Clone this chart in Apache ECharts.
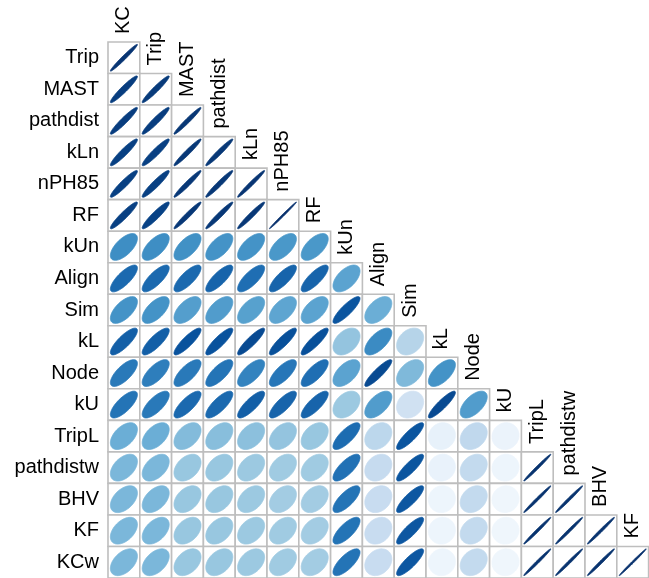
<!DOCTYPE html>
<html>
<head>
<meta charset="utf-8">
<script src="https://cdn.jsdelivr.net/npm/echarts@6/dist/echarts.min.js"></script>
<style>
  html, body { margin: 0; padding: 0; background: #fff; }
  #chart { width: 649px; height: 578px; }
</style>
</head>
<body>
<div id="chart"></div>
<script>
// Column variables (lower triangle, diagonal omitted)
const columns = ['KC', 'Trip', 'MAST', 'pathdist', 'kLn', 'nPH85', 'RF', 'kUn', 'Align',
  'Sim', 'kL', 'Node', 'kU', 'TripL', 'pathdistw', 'BHV', 'KF'];
// Row variables, top to bottom
const rows = ['Trip', 'MAST', 'pathdist', 'kLn', 'nPH85', 'RF', 'kUn', 'Align', 'Sim',
  'kL', 'Node', 'kU', 'TripL', 'pathdistw', 'BHV', 'KF', 'KCw'];

// Correlations of each row variable with the columns to its left
const corTrip = [0.98];
const corMAST = [0.95, 0.96];
const corPathdist = [0.95, 0.95, 0.975];
const corKLn = [0.94, 0.94, 0.97, 0.97];
const corNPH85 = [0.94, 0.94, 0.97, 0.97, 0.98];
const corRF = [0.94, 0.93, 0.97, 0.97, 0.97, 0.995];
const corKUn = [0.64, 0.64, 0.63, 0.62, 0.62, 0.60, 0.60];
const corAlign = [0.78, 0.78, 0.78, 0.80, 0.76, 0.80, 0.80, 0.55];
const corSim = [0.62, 0.62, 0.57, 0.58, 0.56, 0.54, 0.55, 0.86, 0.50];
const corKL = [0.82, 0.82, 0.87, 0.87, 0.90, 0.88, 0.88, 0.40, 0.65, 0.30];
const corNode = [0.72, 0.70, 0.72, 0.74, 0.68, 0.73, 0.76, 0.55, 0.90, 0.45, 0.62];
const corKU = [0.74, 0.72, 0.78, 0.78, 0.82, 0.80, 0.80, 0.38, 0.58, 0.20, 0.90, 0.58];
const corTripL = [0.50, 0.50, 0.44, 0.43, 0.42, 0.40, 0.39, 0.77, 0.28, 0.86, 0.08, 0.27, 0.06];
const corPathdistw = [0.46, 0.46, 0.39, 0.39, 0.38, 0.37, 0.37, 0.75, 0.25, 0.86, 0.07, 0.26, 0.05, 0.99];
const corBHV = [0.46, 0.46, 0.39, 0.39, 0.38, 0.36, 0.36, 0.74, 0.24, 0.85, 0.05, 0.26, 0.04, 0.99, 0.99];
const corKF = [0.46, 0.46, 0.39, 0.39, 0.38, 0.37, 0.36, 0.74, 0.24, 0.85, 0.05, 0.26, 0.04, 0.99, 0.99, 0.99];
const corKCw = [0.46, 0.46, 0.39, 0.39, 0.38, 0.37, 0.36, 0.74, 0.24, 0.85, 0.05, 0.26, 0.04, 0.99, 0.99, 0.99, 0.995];

const corRows = [corTrip, corMAST, corPathdist, corKLn, corNPH85, corRF, corKUn, corAlign,
  corSim, corKL, corNode, corKU, corTripL, corPathdistw, corBHV, corKF, corKCw];

// Sequential blue palette, light (r = 0) to dark (r = 1)
const blues = ['#F7FBFF', '#DEEBF7', '#C6DBEF', '#9ECAE1', '#6BAED6', '#4292C6', '#2171B5', '#08519C', '#08306B'];

const cells = [];
corRows.forEach((vals, ri) => {
  vals.forEach((v, ci) => cells.push([ci, ri, v]));
});
const topLabels = columns.map((name, ci) => [ci, ci]);

const FONT = '"Liberation Sans", Arial, sans-serif';

// One cell: grey frame plus an ellipse whose width shows the correlation
function renderCell(params, api) {
  const center = api.coord([api.value(0), api.value(1)]);
  const size = api.size([1, 1]);
  const w = size[0], h = size[1];
  const rho = api.value(2);
  const color = api.visual('color');
  const d = Math.acos(rho);
  const n = 98;
  const pts = [];
  for (let k = 0; k <= n; k++) {
    const t = 2 * Math.PI * k / n;
    const ex = Math.cos(t + d / 2) * 0.425 * w;
    const ey = Math.cos(t - d / 2) * 0.425 * h;
    pts.push([center[0] + ex, center[1] - ey]);
  }
  return {
    type: 'group',
    children: [
      {
        type: 'rect',
        shape: { x: center[0] - w / 2, y: center[1] - h / 2, width: w, height: h },
        style: { fill: '#ffffff', stroke: '#BEBEBE', lineWidth: 1.6 }
      },
      {
        type: 'polygon',
        shape: { points: pts },
        style: { fill: color, stroke: color, lineWidth: 0.8 }
      }
    ]
  };
}

// Vertical column name sitting just above the column's first cell
function renderTopLabel(params, api) {
  const ci = api.value(0);
  const center = api.coord([ci, api.value(1)]);
  const size = api.size([1, 1]);
  const top = center[1] - size[1] / 2;
  return {
    type: 'text',
    x: center[0],
    y: top - 8,
    rotation: Math.PI / 2,
    style: {
      text: columns[ci],
      fill: '#000',
      font: '20px ' + FONT,
      align: 'left',
      verticalAlign: 'middle'
    }
  };
}

const chart = echarts.init(document.getElementById('chart'), null, { renderer: 'canvas' });
chart.setOption({
  backgroundColor: '#ffffff',
  animation: false,
  grid: { left: 108, top: 42, width: 540.6, height: 539 },
  xAxis: {
    type: 'category',
    data: columns,
    position: 'top',
    axisLine: { show: false },
    axisTick: { show: false },
    axisLabel: { show: false },
    splitLine: { show: false }
  },
  yAxis: {
    type: 'category',
    data: rows,
    inverse: true,
    axisLine: { show: false },
    axisTick: { show: false },
    splitLine: { show: false },
    axisLabel: { color: '#000', fontSize: 20, fontFamily: FONT, margin: 9 }
  },
  visualMap: {
    show: false,
    type: 'continuous',
    seriesIndex: 0,
    dimension: 2,
    min: 0,
    max: 1,
    inRange: { color: blues }
  },
  series: [
    {
      type: 'custom',
      renderItem: renderCell,
      data: cells,
      encode: { x: 0, y: 1 },
      clip: false
    },
    {
      type: 'custom',
      renderItem: renderTopLabel,
      data: topLabels,
      encode: { x: 0, y: 1 },
      clip: false,
      silent: true
    }
  ]
});
</script>
</body>
</html>
